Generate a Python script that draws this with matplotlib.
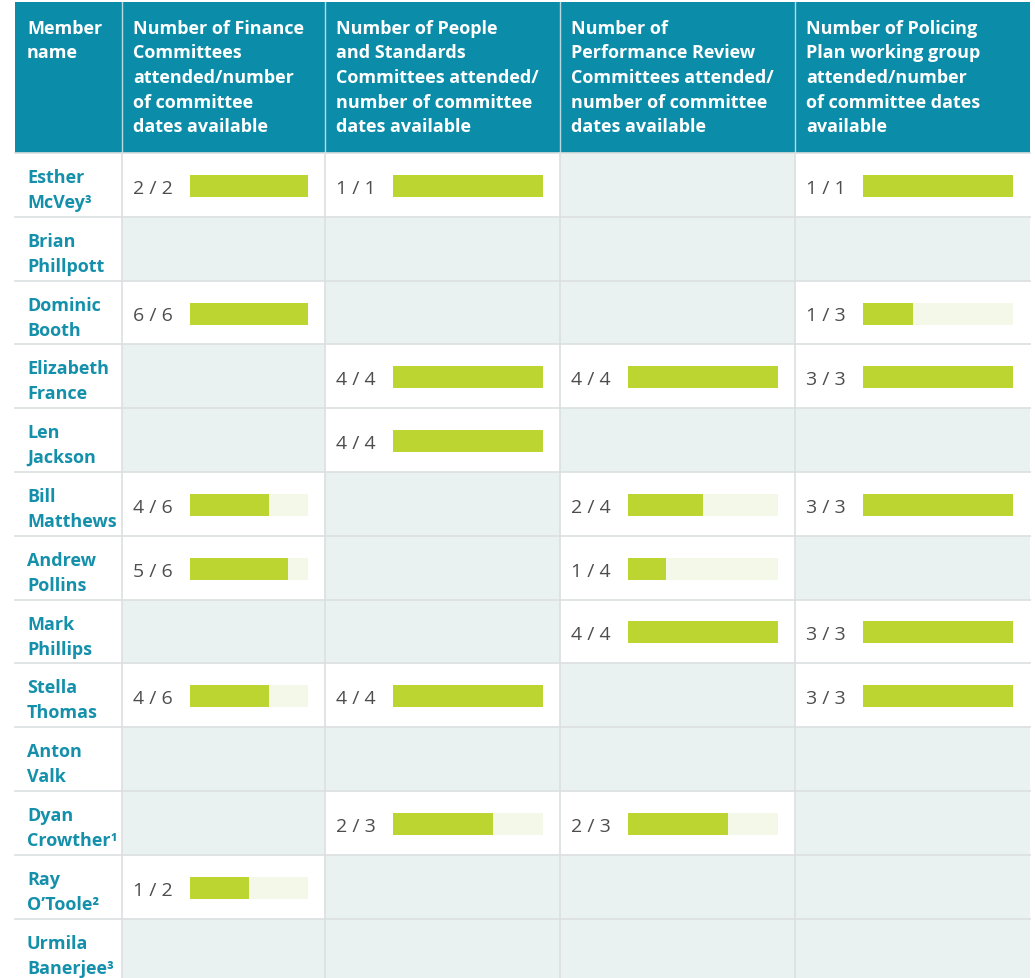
import matplotlib
matplotlib.use('Agg')
import matplotlib.pyplot as plt
from matplotlib.patches import Rectangle

# ----- Data ----- #
members = [
    ('Esther', 'McVey\u00b3'),
    ('Brian', 'Phillpott'),
    ('Dominic', 'Booth'),
    ('Elizabeth', 'France'),
    ('Len', 'Jackson'),
    ('Bill', 'Matthews'),
    ('Andrew', 'Pollins'),
    ('Mark', 'Phillips'),
    ('Stella', 'Thomas'),
    ('Anton', 'Valk'),
    ('Dyan', 'Crowther\u00b9'),
    ('Ray', 'O\u2019Toole\u00b2'),
    ('Urmila', 'Banerjee\u00b3'),
]

headers = [
    ['Member', 'name'],
    ['Number of Finance', 'Committees', 'attended/number', 'of committee', 'dates available'],
    ['Number of People', 'and Standards', 'Committees attended/', 'number of committee', 'dates available'],
    ['Number of', 'Performance Review', 'Committees attended/', 'number of committee', 'dates available'],
    ['Number of Policing', 'Plan working group', 'attended/number', 'of committee dates', 'available'],
]

# (attended, available) per member, None where not a member
finance = [(2, 2), None, (6, 6), None, None, (4, 6), (5, 6), None, (4, 6), None, None, (1, 2), None]
people = [(1, 1), None, None, (4, 4), (4, 4), None, None, None, (4, 4), None, (2, 3), None, None]
performance = [None, None, None, (4, 4), None, (2, 4), (1, 4), (4, 4), None, None, (2, 3), None, None]
policing = [(1, 1), None, (1, 3), (3, 3), None, (3, 3), None, (3, 3), (3, 3), None, None, None, None]
committees = [finance, people, performance, policing]

# ----- Style / layout ----- #
TEAL = '#0b8ca8'
NAME_C = '#1590ab'
EMPTY = '#e9f2f1'
GRID = '#dcdfdf'
BAR = '#bcd531'
BAR_BG = '#f4f8e9'
VAL_C = '#4d4d4d'
FONT = 'Open Sans'

col_edges = [15, 122, 325, 560, 795, 1030]
bar_off = 68
bar_w = [118, 150, 150, 150]
header_top, header_bot = 3, 154
row_h = 63.8
bar_h = 22

fig = plt.figure(figsize=(10.35, 9.79), dpi=100)
ax = fig.add_axes([0, 0, 1, 1])
ax.set_xlim(0, 1035)
ax.set_ylim(979, 0)
ax.axis('off')

# header
ax.add_patch(Rectangle((col_edges[0], header_top), col_edges[-1] - col_edges[0],
                       header_bot - header_top, color=TEAL, lw=0))
for c, lines in enumerate(headers):
    x0 = col_edges[c]
    if c > 0:
        ax.plot([x0, x0], [header_top, header_bot], color='#b7d9e2', lw=1)
    for i, line in enumerate(lines):
        ax.text(x0 + (12 if c == 0 else 11), 34 + i * 24.5, line, color='white',
                fontsize=13, fontweight='bold', family=FONT, va='baseline')

# rows
for r, (first, last) in enumerate(members):
    top = header_bot + r * row_h
    ax.text(27, top + 29, first, color=NAME_C, fontsize=13, fontweight='bold',
            family=FONT, va='baseline')
    ax.text(27, top + 54, last, color=NAME_C, fontsize=13, fontweight='bold',
            family=FONT, va='baseline')
    for c, data in enumerate(committees):
        x0 = col_edges[c + 1]
        x1 = col_edges[c + 2]
        val = data[r]
        if val is None:
            ax.add_patch(Rectangle((x0, top), x1 - x0, row_h, color=EMPTY, lw=0))
            continue
        att, avail = val
        yc = top + row_h / 2 + 1
        ax.text(x0 + 11, yc + 2, '{} / {}'.format(att, avail), color=VAL_C,
                fontsize=14, family=FONT, va='center')
        ax.barh(yc, bar_w[c], height=bar_h, left=x0 + bar_off, color=BAR_BG, lw=0)
        ax.barh(yc, bar_w[c] * att / avail, height=bar_h, left=x0 + bar_off,
                color=BAR, lw=0)

# grid lines
n = len(members)
for r in range(n + 1):
    y = header_bot + r * row_h
    ax.plot([col_edges[0], col_edges[-1]], [y, y], color=GRID, lw=1.2)
for x in col_edges[1:-1]:
    ax.plot([x, x], [header_bot, 979], color=GRID, lw=1.2)

fig.savefig('out.png', dpi=100)
